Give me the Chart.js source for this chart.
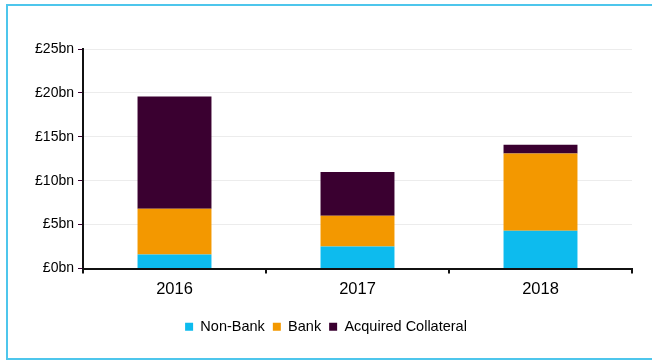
<!DOCTYPE html>
<html>
<head>
<meta charset="utf-8">
<script src="https://cdn.jsdelivr.net/npm/chart.js@4/dist/chart.umd.min.js"></script>
<style>
  html, body { margin: 0; padding: 0; background: #fff; overflow: hidden; }
  #wrap { position: relative; width: 652px; height: 360px; }
  #frame { position: absolute; left: 6px; top: 4px; width: 700px; height: 352px; border: 2px solid #4EC6EC; border-right: none; box-sizing: content-box; }
  canvas { position: absolute; left: 0; top: 0; }
</style>
</head>
<body>
<div id="wrap">
  <div id="frame"></div>
  <canvas id="c" width="652" height="360"></canvas>
</div>
<script>
const categories = ['2016', '2017', '2018'];
const nonBank = [1.6, 2.5, 4.3];
const bank = [5.2, 3.5, 8.8];
const acquiredCollateral = [12.8, 5.0, 1.0];
const seriesNames = ['Non-Bank', 'Bank', 'Acquired Collateral'];
const yTicks = [0, 5, 10, 15, 20, 25];

const FONT = "'Liberation Sans', Arial, sans-serif";

new Chart(document.getElementById('c'), {
  type: 'bar',
  data: {
    labels: categories,
    datasets: [
      { label: seriesNames[0], data: nonBank, backgroundColor: '#0DBBEE' },
      { label: seriesNames[1], data: bank, backgroundColor: '#F39800' },
      { label: seriesNames[2], data: acquiredCollateral, backgroundColor: '#3A0030' }
    ]
  },
  options: {
    responsive: false,
    devicePixelRatio: 1,
    animation: false,
    layout: { padding: { top: 49, left: 20, right: 20, bottom: 16 } },
    datasets: { bar: { categoryPercentage: 1, barPercentage: 0.404 } },
    scales: {
      x: {
        stacked: true,
        border: { display: true, color: '#111', width: 2 },
        grid: { drawOnChartArea: false, drawTicks: true, tickLength: 5, tickColor: '#111', lineWidth: 2, offset: true },
        ticks: { color: '#000', padding: 6, font: { family: FONT, size: 16.5 } },
        afterFit: (s) => { s.height = 43; }
      },
      y: {
        stacked: true,
        min: 0,
        max: 25,
        afterBuildTicks: (s) => { s.ticks = yTicks.map(v => ({ value: v })); },
        border: { display: true, color: '#111', width: 2 },
        grid: { color: '#ececec', lineWidth: 1, tickLength: 5, tickColor: '#3A0030' },
        ticks: { color: '#000', padding: 4, font: { family: FONT, size: 14 }, callback: (v) => '£' + v + 'bn' },
        afterFit: (s) => { s.width = 63; }
      }
    },
    plugins: {
      tooltip: { enabled: false },
      legend: {
        position: 'bottom',
        labels: { boxWidth: 8, boxHeight: 8, padding: 8, color: '#000', font: { family: FONT, size: 14.5 } }
      }
    }
  }
});
</script>
</body>
</html>
